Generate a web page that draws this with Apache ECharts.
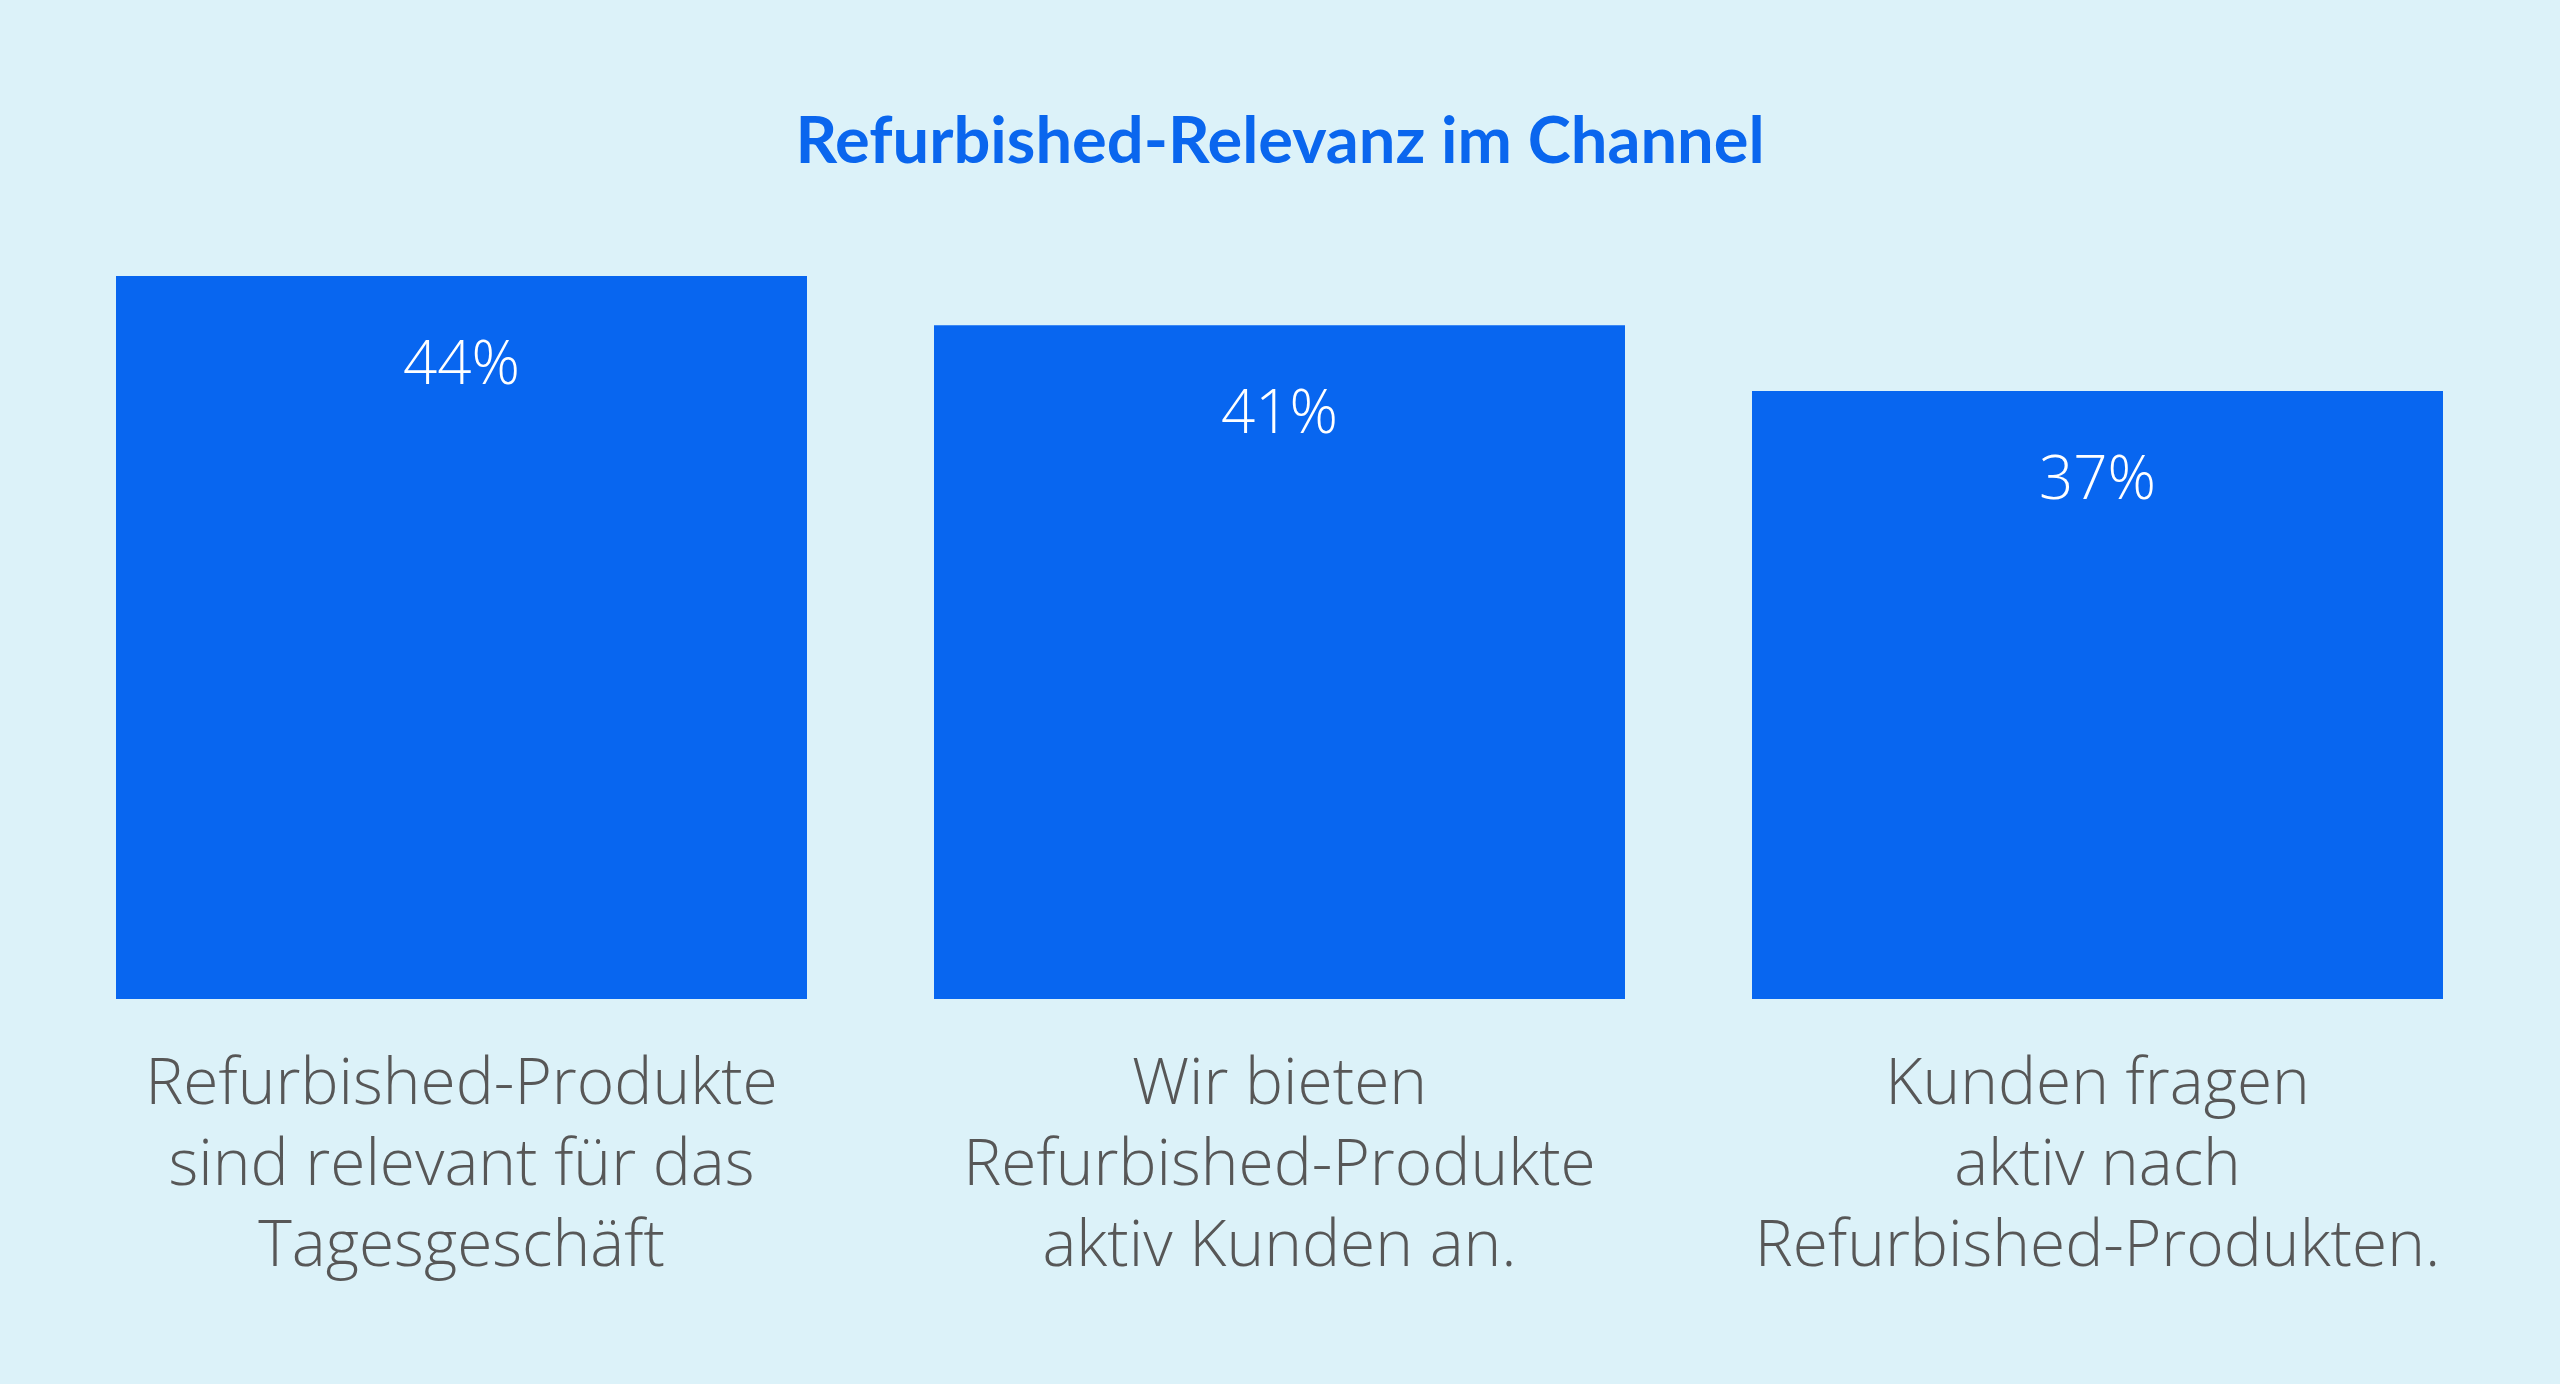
<!DOCTYPE html>
<html>
<head>
<meta charset="utf-8">
<script src="https://cdn.jsdelivr.net/npm/echarts@6/dist/echarts.min.js"></script>
<style>
html,body{margin:0;padding:0;background:#DCF2F9;}
#chart{width:2560px;height:1384px;}
</style>
</head>
<body>
<div id="chart"></div>
<script>
const categories = [
  "Refurbished-Produkte\nsind relevant für das\nTagesgeschäft",
  "Wir bieten\nRefurbished-Produkte\naktiv Kunden an.",
  "Kunden fragen\naktiv nach\nRefurbished-Produkten."
];
const values = [44, 41, 37];
const titleText = "Refurbished-Relevanz im Channel";

const chart = echarts.init(document.getElementById('chart'));
chart.setOption({
  backgroundColor: '#DCF2F9',
  animation: false,
  title: {
    text: titleText,
    left: 'center',
    top: 105,
    textStyle: {
      fontFamily: 'Lato',
      fontWeight: 'bold',
      fontSize: 65,
      color: '#0A66EE'
    }
  },
  grid: {
    left: 52.5,
    right: 53.5,
    top: 177.4,
    bottom: 385,
    containLabel: false
  },
  xAxis: {
    type: 'category',
    data: categories,
    axisLine: { show: false },
    axisTick: { show: false },
    axisLabel: {
      interval: 0,
      margin: 46,
      fontFamily: 'Open Sans',
      fontWeight: 300,
      fontSize: 64,
      lineHeight: 81,
      color: '#575757',
      align: 'center'
    }
  },
  yAxis: {
    type: 'value',
    min: 0,
    max: 50,
    show: false,
    splitLine: { show: false }
  },
  series: [{
    type: 'bar',
    data: values,
    barWidth: 691,
    itemStyle: { color: '#0866F0' },
    label: {
      show: true,
      position: 'insideTop',
      distance: 61,
      formatter: '{c}%',
      fontFamily: 'Open Sans',
      fontWeight: 300,
      fontSize: 60,
      color: '#ffffff'
    }
  }]
});
</script>
</body>
</html>
